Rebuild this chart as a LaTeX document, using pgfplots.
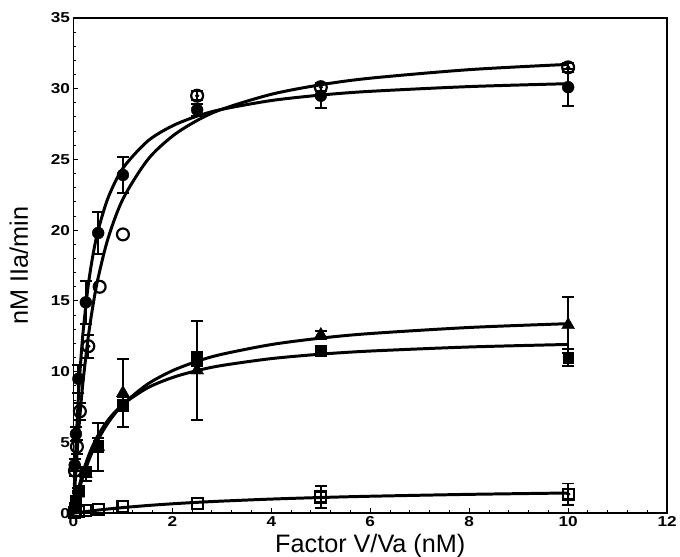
\documentclass[border=0pt]{standalone}
\usepackage{fontspec}
\setmainfont{Liberation Sans}
\newfontfamily\tickfont[FakeStretch=1.2]{Liberation Sans}
\usepackage{pgfplots}
\pgfplotsset{compat=1.18}

% fitted curves
\pgfplotstableread{
x      fc      oc      tri     fsq     osq
0      0       0       0       0       0
0.025  2.557   1.586   0.395   0.470   0.012
0.05   4.727   3.027   0.768   0.907   0.025
0.1    8.211   5.550   1.460   1.693   0.049
0.15   10.884  7.685   2.086   2.381   0.073
0.2    13.000  9.514   2.655   2.988   0.095
0.3    16.138  12.488  3.650   4.011   0.140
0.4    18.353  14.800  4.492   4.838   0.182
0.5    20.000  16.650  5.214   5.522   0.222
0.7    22.286  19.425  6.388   6.585   0.298
1      24.375  22.200  7.684   7.697   0.400
1.5    26.292  24.975  9.125   8.860   0.545
2      27.368  26.640  10.069  9.585   0.667
2.5    28.058  27.750  10.735  10.079  0.769
3      28.537  28.543  11.231  10.438  0.857
4      29.159  29.600  11.918  10.925  1.000
5      29.545  30.273  12.373  11.239  1.111
6      29.809  30.738  12.696  11.459  1.200
8      30.145  31.341  13.124  11.746  1.333
10     30.350  31.714  13.394  11.925  1.429
}\fits

\pgfplotstableread{
x     y     e
0.025 3.4   0.4
0.05  5.6   0.5
0.1   9.5   1.0
0.25  14.9  1.5
0.5   19.8  1.5
1     23.9  1.3
2.5   28.5  0.4
5     29.5  0.9
10    30.1  1.3
}\filledcirc

\pgfplotstableread{
x     y     e
0.03  3.0   0.4
0.07  4.7   0.5
0.13  7.2   0.6
0.3   11.8  0.8
0.53  16.0  0
1.0   19.7  0
2.5   29.5  0.3
5     30.1  0.3
10    31.5  0.3
}\opencirc

\pgfplotstableread{
x     y     e
0.025 0.3   0
0.05  0.7   0
0.1   1.4   0.2
0.25  2.8   0.5
0.5   4.7   1.7
1     8.5   2.4
2.5   10.1  3.5
5     12.6  0.3
10    13.3  2.0
}\triang

\pgfplotstableread{
x     y     e
0.025 0.4   0
0.05  0.9   0
0.1   1.6   0.2
0.25  2.9   0.3
0.5   4.8   0.5
1     7.7   0.5
2.5   10.9  0.5
5     11.5  0.3
10    11.0  0.6
}\filledsq

\pgfplotstableread{
x     y     e
0.025 0.05  0
0.05  0.1   0
0.1   0.15  0
0.25  0.2   0
0.5   0.24  0
1     0.45  0
2.5   0.7   0
5     1.15  0.75
10    1.35  0.75
}\opensq

\begin{document}
\begin{tikzpicture}
\useasboundingbox (-74bp,-44bp) rectangle (611bp,517bp);
\begin{axis}[
    at={(0,0)}, anchor=south west,
    width=598bp, height=499bp,
    scale only axis,
    clip=false,
    xmin=0, xmax=12, ymin=0, ymax=35,
    xtick={0,2,...,12}, ytick={0,5,...,35},
    minor x tick num=4, minor y tick num=4,
    tick align=inside, tick pos=left,
    major tick length=5bp, minor tick length=3bp,
    axis line style={line width=1.5bp},
    every tick/.style={line width=1bp, black},
    tick label style={font=\tickfont\fontsize{14.5}{14.5}\selectfont\bfseries},
    /pgf/number format/assume math mode=true,
    xlabel={Factor V/Va (nM)},
    ylabel={nM IIa/min},
    label style={font=\fontsize{25.5}{25.5}\selectfont},
    xlabel style={at={(axis description cs:0.5,-0.0802)}, anchor=base},
    ylabel style={at={(axis description cs:-0.0769,0.5)}, anchor=base},
    every axis plot/.append style={black},
    fit/.style={line width=3bp, smooth, no marks},
    bars/.style={only marks, mark=none,
        x filter/.expression={\thisrow{e}>0 ? x : nan},
        error bars/y dir=both, error bars/y explicit,
        error bars/error bar style={line width=2bp},
        error bars/error mark options={rotate=90, mark size=6bp, line width=2bp}},
    pts/.style={only marks, mark size=6bp},
]
% curves
\addplot[fit] table[x=x, y=fc] {\fits};
\addplot[fit] table[x=x, y=oc] {\fits};
\addplot[fit] table[x=x, y=tri] {\fits};
\addplot[fit] table[x=x, y=fsq] {\fits};
\addplot[fit] table[x=x, y=osq] {\fits};

% error bars (only where there is one)
\addplot[bars] table[x=x, y=y, y error=e] {\opensq};
\addplot[bars] table[x=x, y=y, y error=e] {\filledsq};
\addplot[bars] table[x=x, y=y, y error=e] {\triang};
\addplot[bars] table[x=x, y=y, y error=e] {\opencirc};
\addplot[bars] table[x=x, y=y, y error=e] {\filledcirc};

% data points
\addplot[pts, mark=square, mark options={line width=2.2bp, mark size=5.5bp}]
    table[x=x, y=y] {\opensq};
\addplot[pts, mark=square*, mark options={fill=black, mark size=5.5bp}]
    table[x=x, y=y] {\filledsq};
\addplot[pts, mark=triangle*, mark options={fill=black, mark size=7.5bp}]
    table[x=x, y=y] {\triang};
\addplot[pts, mark=o, mark options={line width=2.2bp}]
    table[x=x, y=y] {\opencirc};
\addplot[pts, mark=*, mark options={fill=black}]
    table[x=x, y=y] {\filledcirc};
\end{axis}
\end{tikzpicture}
\end{document}
